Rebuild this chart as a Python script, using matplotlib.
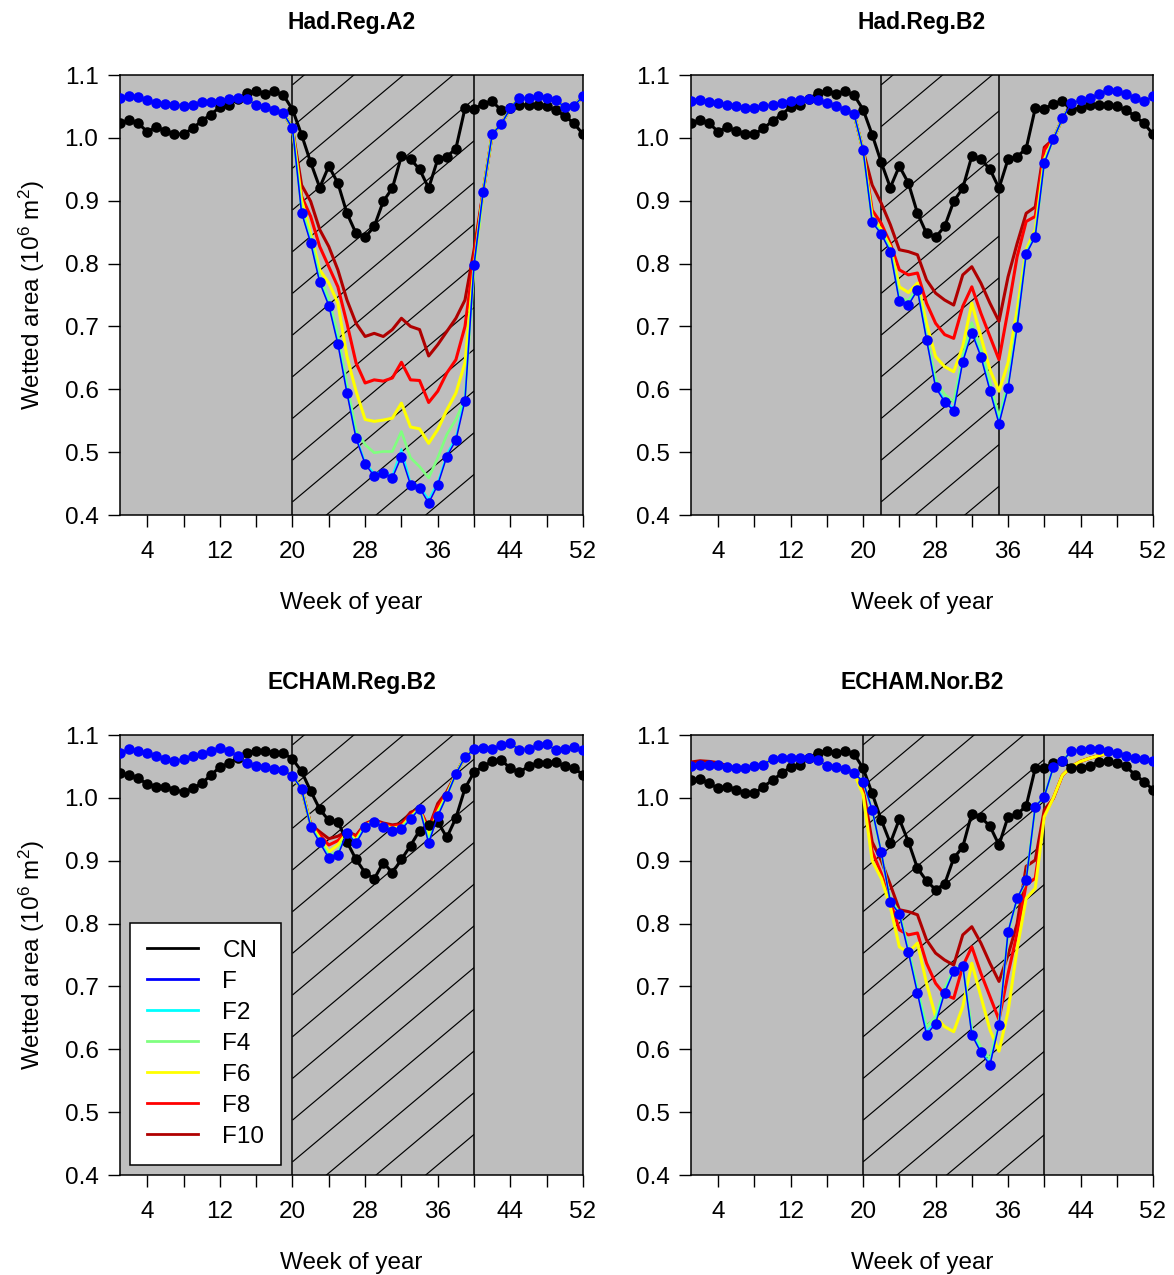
import matplotlib
matplotlib.use("Agg")
import matplotlib.pyplot as plt
from matplotlib.patches import Rectangle
from matplotlib.lines import Line2D
import numpy as np

plt.rcParams['font.family'] = ['Liberation Sans', 'DejaVu Sans']
plt.rcParams['mathtext.fontset'] = 'custom'
plt.rcParams['mathtext.rm'] = 'Liberation Sans'
plt.rcParams['mathtext.it'] = 'Liberation Sans:italic'
plt.rcParams['mathtext.bf'] = 'Liberation Sans:bold'

# ---------------- data ----------------
weeks = list(range(1, 53))
xticks = list(range(4, 53, 4))
xticklabels = ['4', '', '12', '', '20', '', '28', '', '36', '', '44', '', '52']
yticks = [0.4, 0.5, 0.6, 0.7, 0.8, 0.9, 1.0, 1.1]
series_names = ['CN', 'F', 'F2', 'F4', 'F6', 'F8', 'F10']
titles = ['Had.Reg.A2', 'Had.Reg.B2', 'ECHAM.Reg.B2', 'ECHAM.Nor.B2']
spans = [(20, 40), (22, 35), (20, 40), (20, 40)]

# --- Had.Reg.A2 ---
a2_cn = [1.023, 1.028, 1.023, 1.010, 1.017, 1.011, 1.006, 1.006, 1.015, 1.027,
         1.037, 1.049, 1.053, 1.062, 1.071, 1.075, 1.070, 1.074, 1.068, 1.045,
         1.005, 0.961, 0.921, 0.955, 0.928, 0.880, 0.848, 0.842, 0.859, 0.899,
         0.920, 0.971, 0.966, 0.950, 0.920, 0.966, 0.970, 0.983, 1.047, 1.046,
         1.054, 1.058, 1.044, 1.048, 1.052, 1.053, 1.053, 1.050, 1.044, 1.035,
         1.023, 1.006]
a2_f = [1.063, 1.067, 1.065, 1.060, 1.055, 1.054, 1.053, 1.051, 1.052, 1.057,
        1.057, 1.059, 1.062, 1.064, 1.062, 1.052, 1.049, 1.045, 1.039, 1.015,
        0.881, 0.833, 0.770, 0.733, 0.672, 0.594, 0.522, 0.481, 0.462, 0.467,
        0.459, 0.493, 0.448, 0.443, 0.419, 0.448, 0.493, 0.519, 0.582, 0.798,
        0.914, 1.006, 1.022, 1.047, 1.064, 1.064, 1.066, 1.064, 1.060, 1.049,
        1.051, 1.066]
a2_start = 21  # first week of the values below (weeks 21-40)
a2_f2 = [0.882, 0.835, 0.772, 0.735, 0.675, 0.597, 0.525, 0.484, 0.466, 0.470,
         0.463, 0.505, 0.452, 0.446, 0.425, 0.452, 0.497, 0.524, 0.588, 0.798]
a2_f4 = [0.888, 0.842, 0.780, 0.745, 0.688, 0.608, 0.535, 0.512, 0.499, 0.501,
         0.501, 0.533, 0.491, 0.477, 0.459, 0.491, 0.528, 0.552, 0.585, 0.792]
a2_f6 = [0.901, 0.848, 0.790, 0.769, 0.737, 0.652, 0.597, 0.552, 0.549, 0.551,
         0.554, 0.578, 0.540, 0.537, 0.514, 0.536, 0.567, 0.594, 0.642, 0.795]
a2_f8 = [0.907, 0.875, 0.827, 0.795, 0.763, 0.705, 0.642, 0.610, 0.615, 0.613,
         0.618, 0.643, 0.615, 0.614, 0.579, 0.597, 0.626, 0.647, 0.700, 0.811]
a2_f10 = [0.925, 0.899, 0.854, 0.827, 0.790, 0.742, 0.705, 0.684, 0.689, 0.684,
          0.695, 0.713, 0.700, 0.695, 0.653, 0.671, 0.692, 0.713, 0.742, 0.822]

# --- Had.Reg.B2 ---
b2_cn = a2_cn
b2_f = [1.058, 1.060, 1.057, 1.055, 1.052, 1.050, 1.048, 1.047, 1.050, 1.053,
        1.055, 1.058, 1.060, 1.062, 1.060, 1.055, 1.050, 1.045, 1.038, 0.980,
        0.866, 0.847, 0.819, 0.740, 0.734, 0.758, 0.679, 0.603, 0.580, 0.566,
        0.644, 0.690, 0.652, 0.598, 0.545, 0.602, 0.699, 0.815, 0.843, 0.960,
        0.998, 1.031, 1.055, 1.060, 1.064, 1.069, 1.076, 1.075, 1.069, 1.064,
        1.058, 1.066]
b2_start = 21  # weeks 21-40
b2_f2 = [0.866, 0.848, 0.820, 0.741, 0.735, 0.759, 0.680, 0.606, 0.583, 0.569,
         0.646, 0.692, 0.655, 0.600, 0.548, 0.604, 0.700, 0.816, 0.844, 0.960]
b2_f4 = [0.868, 0.850, 0.823, 0.746, 0.741, 0.762, 0.686, 0.616, 0.592, 0.580,
         0.653, 0.706, 0.664, 0.612, 0.556, 0.612, 0.706, 0.818, 0.846, 0.962]
b2_f6 = [0.875, 0.854, 0.827, 0.763, 0.754, 0.769, 0.705, 0.652, 0.636, 0.628,
         0.668, 0.737, 0.684, 0.631, 0.597, 0.642, 0.726, 0.822, 0.854, 0.966]
b2_f8 = [0.885, 0.864, 0.832, 0.790, 0.782, 0.785, 0.737, 0.705, 0.687, 0.681,
         0.732, 0.763, 0.721, 0.684, 0.647, 0.726, 0.811, 0.867, 0.875, 0.981]
b2_f10 = [0.925, 0.896, 0.862, 0.822, 0.819, 0.814, 0.774, 0.753, 0.742, 0.734,
          0.782, 0.795, 0.769, 0.737, 0.708, 0.779, 0.832, 0.880, 0.890, 0.985]

# --- ECHAM.Reg.B2 ---
er_cn = [1.039, 1.036, 1.031, 1.022, 1.018, 1.018, 1.013, 1.009, 1.015, 1.023,
         1.036, 1.049, 1.055, 1.064, 1.072, 1.075, 1.075, 1.072, 1.071, 1.062,
         1.042, 1.011, 0.982, 0.964, 0.962, 0.930, 0.902, 0.881, 0.871, 0.897,
         0.881, 0.902, 0.924, 0.948, 0.957, 0.962, 0.937, 0.968, 1.015, 1.041,
         1.050, 1.058, 1.060, 1.047, 1.041, 1.050, 1.055, 1.055, 1.057, 1.050,
         1.047, 1.037]
er_f = [1.071, 1.078, 1.074, 1.071, 1.067, 1.062, 1.059, 1.062, 1.066, 1.069,
        1.074, 1.079, 1.074, 1.066, 1.055, 1.051, 1.049, 1.046, 1.044, 1.035,
        1.014, 0.954, 0.929, 0.904, 0.909, 0.944, 0.928, 0.953, 0.962, 0.953,
        0.948, 0.950, 0.966, 0.983, 0.928, 0.971, 1.003, 1.038, 1.065, 1.077,
        1.080, 1.078, 1.084, 1.087, 1.076, 1.078, 1.084, 1.085, 1.076, 1.078,
        1.081, 1.076]
er_start = 22  # weeks 22-38
er_f2 = [0.955, 0.930, 0.906, 0.911, 0.944, 0.929, 0.954, 0.962, 0.954, 0.949,
         0.951, 0.967, 0.983, 0.930, 0.972, 1.003, 1.038]
er_f4 = [0.956, 0.932, 0.909, 0.914, 0.945, 0.930, 0.955, 0.963, 0.955, 0.950,
         0.952, 0.968, 0.983, 0.933, 0.974, 1.004, 1.038]
er_f6 = [0.957, 0.936, 0.914, 0.925, 0.945, 0.933, 0.956, 0.963, 0.956, 0.952,
         0.954, 0.970, 0.983, 0.939, 0.978, 1.005, 1.038]
er_f8 = [0.958, 0.941, 0.925, 0.932, 0.946, 0.938, 0.958, 0.964, 0.958, 0.955,
         0.957, 0.973, 0.983, 0.950, 0.986, 1.007, 1.038]
er_f10 = [0.958, 0.946, 0.935, 0.939, 0.947, 0.940, 0.959, 0.965, 0.960, 0.957,
          0.959, 0.977, 0.982, 0.952, 0.991, 1.010, 1.038]

# --- ECHAM.Nor.B2 ---
en_cn = [1.028, 1.030, 1.023, 1.015, 1.018, 1.013, 1.007, 1.007, 1.018, 1.028,
         1.039, 1.049, 1.053, 1.063, 1.072, 1.075, 1.072, 1.074, 1.070, 1.047,
         1.007, 0.965, 0.928, 0.966, 0.930, 0.888, 0.868, 0.854, 0.863, 0.904,
         0.922, 0.975, 0.969, 0.955, 0.925, 0.970, 0.974, 0.987, 1.047, 1.047,
         1.055, 1.058, 1.047, 1.048, 1.051, 1.057, 1.058, 1.055, 1.050, 1.037,
         1.026, 1.013]
en_f = [1.050, 1.053, 1.052, 1.053, 1.049, 1.047, 1.047, 1.050, 1.053, 1.062,
        1.063, 1.064, 1.064, 1.063, 1.060, 1.051, 1.049, 1.046, 1.039, 1.026,
        0.981, 0.914, 0.835, 0.815, 0.754, 0.689, 0.623, 0.641, 0.690, 0.724,
        0.733, 0.623, 0.595, 0.575, 0.639, 0.787, 0.840, 0.869, 0.986, 1.002,
        1.049, 1.058, 1.075, 1.076, 1.078, 1.077, 1.075, 1.071, 1.066, 1.063,
        1.062, 1.058]
en_start = 19  # weeks 19-48
en_f2 = [1.039, 1.026, 0.981, 0.914, 0.836, 0.816, 0.756, 0.692, 0.628, 0.645,
         0.692, 0.725, 0.733, 0.625, 0.597, 0.578, 0.641, 0.787, 0.840, 0.869,
         0.986, 1.002, 1.049, 1.058, 1.075, 1.076, 1.078, 1.077, 1.075, 1.071]
en_f4 = [1.039, 1.026, 0.980, 0.912, 0.838, 0.818, 0.760, 0.697, 0.636, 0.652,
         0.697, 0.727, 0.734, 0.632, 0.603, 0.585, 0.641, 0.785, 0.838, 0.868,
         0.985, 1.002, 1.049, 1.058, 1.075, 1.076, 1.078, 1.077, 1.075, 1.071]
en_f6 = [1.039, 1.005, 0.900, 0.872, 0.827, 0.763, 0.754, 0.769, 0.705, 0.652,
         0.636, 0.628, 0.668, 0.737, 0.684, 0.631, 0.597, 0.660, 0.760, 0.840,
         0.856, 0.970, 1.000, 1.036, 1.050, 1.058, 1.063, 1.067, 1.071, 1.071]
en_f8 = [1.039, 1.010, 0.915, 0.880, 0.835, 0.790, 0.782, 0.785, 0.737, 0.705,
         0.687, 0.681, 0.732, 0.763, 0.721, 0.684, 0.647, 0.720, 0.785, 0.862,
         0.872, 0.973, 1.000, 1.036, 1.050, 1.058, 1.063, 1.067, 1.071, 1.071]
en_f10 = [1.040, 1.015, 0.930, 0.900, 0.862, 0.822, 0.819, 0.814, 0.774, 0.753,
          0.742, 0.734, 0.782, 0.795, 0.769, 0.737, 0.708, 0.750, 0.800, 0.891,
          0.901, 0.981, 0.999, 1.036, 1.050, 1.058, 1.063, 1.067, 1.071, 1.071]
en_f10_head = [1.057, 1.059, 1.058, 1.056, 1.051]  # weeks 1-5

# ---------------- styles ----------------
colors = {'CN': 'black', 'F': '#0000FF', 'F2': '#00FFFF', 'F4': '#80FF80',
          'F6': '#FFFF00', 'F8': '#FF0000', 'F10': '#B00000'}
widths = {'CN': 2.2, 'F': 1.1, 'F2': 1.2, 'F4': 1.9, 'F6': 2.2, 'F8': 2.2, 'F10': 2.2}
FS = 17.5


def splice(base, start, vals):
    out = list(base)
    out[start - 1:start - 1 + len(vals)] = vals
    return out


panels = [
    dict(cn=a2_cn, f=a2_f, start=a2_start, extra=[a2_f2, a2_f4, a2_f6, a2_f8, a2_f10]),
    dict(cn=b2_cn, f=b2_f, start=b2_start, extra=[b2_f2, b2_f4, b2_f6, b2_f8, b2_f10]),
    dict(cn=er_cn, f=er_f, start=er_start, extra=[er_f2, er_f4, er_f6, er_f8, er_f10]),
    dict(cn=en_cn, f=en_f, start=en_start, extra=[en_f2, en_f4, en_f6, en_f8, en_f10]),
]

W, H = 1174, 1275
fig = plt.figure(figsize=(W / 100, H / 100), dpi=100)
boxes = [(120, 75, 463, 440), (691, 75, 462, 440), (120, 735, 463, 440), (691, 735, 462, 440)]

XMIN, XMAX, YMIN, YMAX = 1, 52, 0.4, 1.1

for i, (p, box) in enumerate(zip(panels, boxes)):
    l, t, w, h = box
    ax = fig.add_axes([l / W, 1 - (t + h) / H, w / W, h / H])
    ax.set_facecolor('#BEBEBE')
    ax.set_xlim(XMIN, XMAX)
    ax.set_ylim(YMIN, YMAX)

    # hatched period
    x0, x1 = spans[i]
    rect = Rectangle((x0, YMIN), x1 - x0, YMAX - YMIN, facecolor='none',
                     edgecolor='none', transform=ax.transData)
    ax.add_patch(rect)
    px_per_wk = w / (XMAX - XMIN)
    px_per_unit = h / (YMAX - YMIN)
    slope = 0.84 * px_per_wk / px_per_unit
    step = 41.7 / px_per_unit
    b0 = 0.819
    k_lo = int(np.floor((YMIN - slope * (x1 - x0) - b0) / step)) - 1
    k_hi = int(np.ceil((YMAX - b0) / step)) + 1
    for k in range(k_lo, k_hi + 1):
        b = b0 + k * step
        ln, = ax.plot([x0, x1], [b, b + slope * (x1 - x0)], color='black',
                      lw=0.85, zorder=1, solid_capstyle='butt')
        ln.set_clip_path(rect)
    ax.axvline(x0, color='black', lw=1.1, zorder=2)
    ax.axvline(x1, color='black', lw=1.1, zorder=2)

    # data
    f = p['f']
    for name, vals, z in zip(['F10', 'F8', 'F6', 'F4', 'F2'],
                             p['extra'][::-1], [3, 4, 5, 6, 7]):
        full = splice(f, p['start'], vals)
        if i == 3 and name == 'F10':
            full = splice(full, 1, en_f10_head)
        ax.plot(weeks, full, color=colors[name], lw=widths[name], zorder=z,
                label=name)
    ax.plot(weeks, p['cn'], color='black', lw=widths['CN'], marker='o',
            markersize=7.6, markeredgewidth=0, zorder=8, label='CN')
    ax.plot(weeks, f, color=colors['F'], lw=widths['F'], marker='o',
            markersize=7.6, markeredgewidth=0, zorder=9, label='F')

    ax.set_xticks(xticks)
    ax.set_xticklabels(xticklabels)
    ax.set_yticks(yticks)
    ax.set_yticklabels(['%.1f' % v for v in yticks])
    ax.tick_params(axis='both', direction='out', length=8.5, width=1.0,
                   labelsize=FS, colors='black')
    ax.tick_params(axis='x', pad=10)
    ax.tick_params(axis='y', pad=7)
    for s in ax.spines.values():
        s.set_linewidth(1.1)
        s.set_color('black')
    ax.set_title(titles[i], fontsize=16.5, fontweight='bold', pad=33)
    ax.set_xlabel('Week of year', fontsize=FS, labelpad=21)
    if i in (0, 2):
        ax.set_ylabel('Wetted area (10$^{6}$ m$^{2}$)', fontsize=FS, labelpad=13)

    if i == 2:
        handles = [Line2D([0], [0], color=colors[n], lw=2.0) for n in series_names]
        leg = ax.legend(handles, series_names, loc='lower left',
                        bbox_to_anchor=(0.0216, 0.0227), borderaxespad=0,
                        fontsize=FS, frameon=True, fancybox=False,
                        framealpha=1, edgecolor='black', handlelength=2.1,
                        handletextpad=1.0, labelspacing=0.37, borderpad=0.7)
        leg.get_frame().set_linewidth(1.1)
        leg.set_zorder(20)

fig.savefig('out.png', dpi=100, facecolor='white')
